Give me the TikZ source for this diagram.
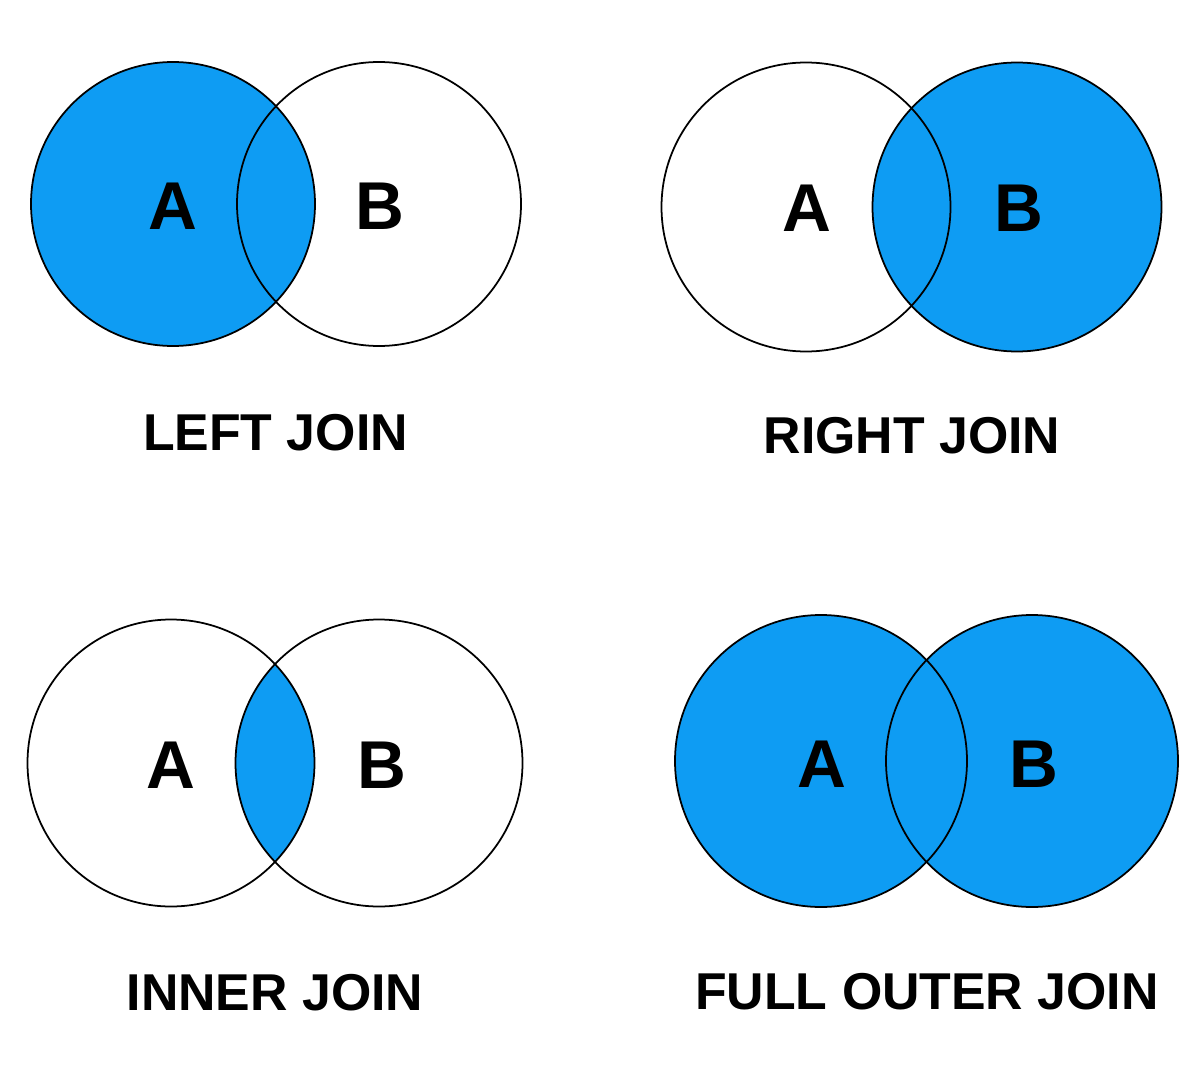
\documentclass[tikz,border=0pt]{standalone}
\usepackage{fontspec}
\setmainfont{Liberation Sans}
\definecolor{joinblue}{RGB}{14,156,243}

\begin{document}
\begin{tikzpicture}[
        x=0.02cm, y=-0.02cm,
        line width=1pt,
        inner sep=0pt,
        letter/.style={font=\fontsize{38.5}{40}\selectfont\bfseries},
        title/.style={font=\fontsize{29.5}{32}\selectfont\bfseries}
        ]
        \useasboundingbox (0,0) rectangle (1203,1071);

        % left join
        \fill[joinblue] (173,204) circle (142);
        \draw (173,204) circle (142);
        \draw (379,204) circle (142);
        \node[letter] (la) at (173,206) {A};
        \node[letter] (lb) at (380,206) {B};
        \node[title] (left) at (275.5,432.5) {LEFT JOIN};

        % right join
        \fill[joinblue] (1017,207) circle (144.5);
        \draw (806,207) circle (144.5);
        \draw (1017,207) circle (144.5);
        \node[letter] (ra) at (807,208.5) {A};
        \node[letter] (rb) at (1019,208.5) {B};
        \node[title] (right) at (912,435.5) {RIGHT JOIN};

        % inner join
        \begin{scope}
            \clip (171,763) circle (143.5);
            \fill[joinblue] (379,763) circle (143.5);
        \end{scope}
        \draw (171,763) circle (143.5);
        \draw (379,763) circle (143.5);
        \node[letter] (ia) at (171,765) {A};
        \node[letter] (ib) at (382,765) {B};
        \node[title] (inner) at (275,993) {INNER JOIN};

        % full outer join
        \fill[joinblue] (821,761) circle (146);
        \fill[joinblue] (1032,761) circle (146);
        \draw (821,761) circle (146);
        \draw (1032,761) circle (146);
        \node[letter] (fa) at (821.5,764) {A};
        \node[letter] (fb) at (1034,764) {B};
        \node[title] (full) at (927,991.5) {FULL OUTER JOIN};

    \end{tikzpicture}
\end{document}
